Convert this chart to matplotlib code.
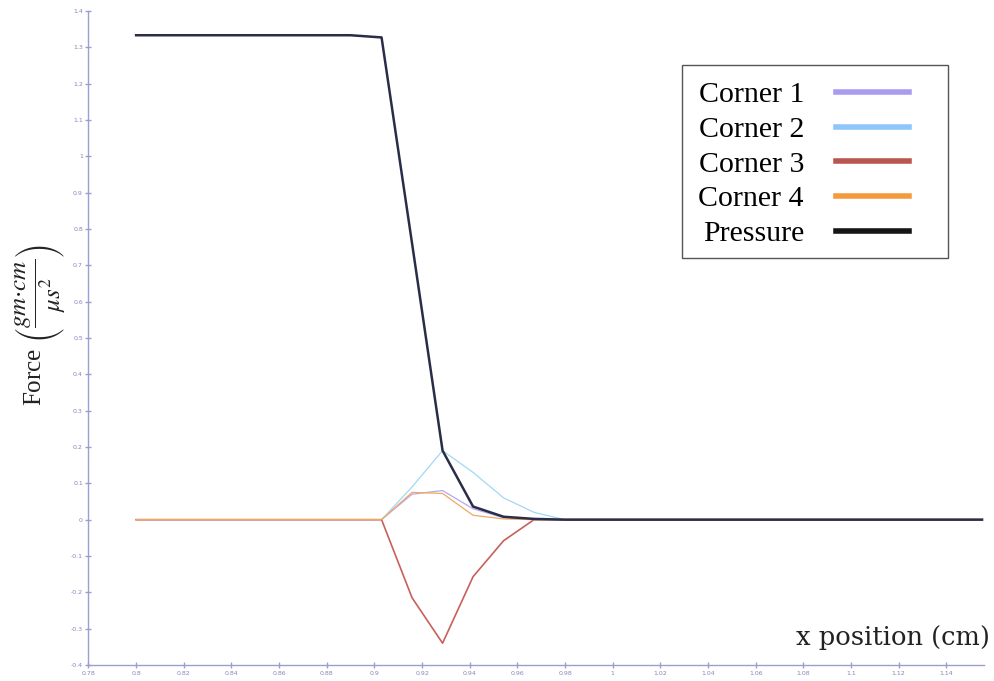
import matplotlib
matplotlib.use('Agg')
import matplotlib.pyplot as plt
from matplotlib.patches import Rectangle

# 数据
x_pos = [0.800, 0.890, 0.903, 0.9158, 0.9286, 0.9414, 0.9542, 0.967, 0.9798, 1.155]
corner1 = [0.0, 0.0, 0.0, 0.070, 0.080, 0.030, 0.005, 0.0, 0.0, 0.0]
corner2 = [0.0, 0.0, 0.0, 0.090, 0.190, 0.130, 0.060, 0.020, 0.0, 0.0]
corner3 = [0.0, 0.0, 0.0, -0.215, -0.340, -0.157, -0.058, 0.0, 0.0, 0.0]
corner4 = [0.0, 0.0, 0.0, 0.075, 0.072, 0.012, 0.002, 0.0, 0.0, 0.0]
pressure = [1.333, 1.333, 1.327, 0.760, 0.190, 0.036, 0.008, 0.002, 0.0, 0.0]

x_ticks = [0.78, 0.8, 0.82, 0.84, 0.86, 0.88, 0.9, 0.92, 0.94, 0.96, 0.98,
           1, 1.02, 1.04, 1.06, 1.08, 1.1, 1.12, 1.14]
y_ticks = [-0.4, -0.3, -0.2, -0.1, 0, 0.1, 0.2, 0.3, 0.4, 0.5, 0.6, 0.7,
           0.8, 0.9, 1, 1.1, 1.2, 1.3, 1.4]

series = [
    ('Corner 1', corner1, '#b3a8f0', 0.9),
    ('Corner 2', corner2, '#a0d8f5', 0.9),
    ('Corner 3', corner3, '#c8605a', 1.2),
    ('Corner 4', corner4, '#f2a860', 0.9),
    ('Pressure', pressure, '#2a2d48', 1.8),
]
legend_colors = ['#a99cf0', '#8ec6f8', '#b8574f', '#f59a3c', '#151515']

plt.rcParams['mathtext.fontset'] = 'stix'

fig = plt.figure(figsize=(9.95, 6.81), dpi=100)
ax = fig.add_axes([0.0889, 0.0235, 0.9005, 0.9605])

for name, vals, color, lw in series:
    ax.plot(x_pos, vals, color=color, lw=lw, label=name)

ax.set_xlim(0.78, 1.156)
ax.set_ylim(-0.4, 1.4)
ax.set_xticks(x_ticks)
ax.set_xticklabels([f'{v:g}' for v in x_ticks])
ax.set_yticks(y_ticks)
ax.set_yticklabels([f'{v:g}' for v in y_ticks])

axis_col = '#9aa0cc'
for s in ['top', 'right']:
    ax.spines[s].set_visible(False)
for s in ['left', 'bottom']:
    ax.spines[s].set_color(axis_col)
    ax.spines[s].set_linewidth(1.0)
ax.tick_params(direction='inout', length=4, width=1, color=axis_col,
               labelsize=4.5, labelcolor='#8088b8', pad=2)

# 图例：文字在左，线在右；边框单独画
leg = ax.legend(loc='upper left', bbox_to_anchor=(0.6854, 0.9046),
                bbox_transform=fig.transFigure, markerfirst=False,
                frameon=False, handlelength=2.45,
                labelspacing=0.26, borderpad=0.55, handletextpad=1.07,
                borderaxespad=0,
                prop={'family': 'Liberation Serif', 'size': 21.5})
for line, c in zip(leg.get_lines(), legend_colors):
    line.set_linewidth(4)
    line.set_color(c)
fig.patches.append(Rectangle((682 / 995, 1 - 258 / 681), 266 / 995, 193 / 681,
                             transform=fig.transFigure, fill=False,
                             edgecolor='#555555', lw=1.0))

fig.text(0.04, 1 - 325 / 681,
         r'Force $\left(\dfrac{gm{\cdot}cm}{\mu s^2}\right)$',
         rotation=90, ha='center', va='center', fontsize=18,
         family='Liberation Serif', color='#222222')
fig.text(0.995, 1 - 637 / 681, 'x position (cm)', ha='right', va='center',
         fontsize=18.5, family='DejaVu Serif', color='#222222')

fig.savefig('out.png', dpi=100)
